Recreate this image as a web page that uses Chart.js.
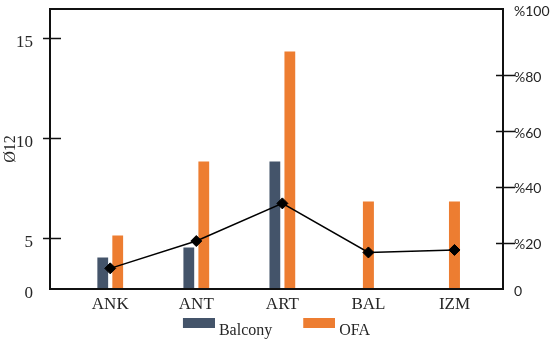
<!DOCTYPE html>
<html><head><meta charset="utf-8">
<script src="https://cdn.jsdelivr.net/npm/chart.js@4/dist/chart.umd.min.js"></script>
<style>html,body{margin:0;padding:0;background:#fff}#wrap{width:550px;height:341px}</style>
</head><body><div id="wrap"><canvas id="c" width="550" height="341"></canvas></div>
<script>
// ---- data ----
const categories = ['ANK', 'ANT', 'ART', 'BAL', 'IZM'];
const balcony = [4.0, 4.5, 8.8, null, null];
const ofa = [5.1, 8.8, 14.3, 6.8, 6.8];
const share = [10.8, 20.6, 34.1, 16.5, 17.4];   // right axis (%)
const leftTicks = [5, 10, 15];
const rightTicks = [20, 40, 60, 80];
const leftBottomLabel = '0';
const rightBottomLabel = '0';
const rightTopLabel = '%100';
const seriesNames = ['Balcony', 'OFA'];
const yTitle = 'Ø12';

// ---- layout / range settings ----
const leftMin = 2.425, leftMax = 16.425;
const rightMin = 3.4, rightMax = 103.8;
const xMin = -0.70, xMax = 4.564;
const SERIF = "'Liberation Serif', 'DejaVu Serif', serif";
const SANS = "Lato, 'Open Sans', sans-serif";
const TXT = '#262626';
const COL_B = '#44546A', COL_O = '#ED7D31';
const LEG_BW = 51;

const toXY = arr => arr.map((v, i) => ({x: i, y: v}));

function swatch(color) {
  const c = document.createElement('canvas');
  c.width = LEG_BW + 8; c.height = 26;
  const g = c.getContext('2d');
  g.fillStyle = color;
  g.fillRect(c.width - 32, 0, 32, 10);
  return c;
}
const swatches = [swatch(COL_B), swatch(COL_O)];

const noPad = s => { s.paddingTop = 0; s.paddingBottom = 0; s.paddingLeft = 0; s.paddingRight = 0; };

const framePlugin = {
  id: 'frame',
  afterDatasetsDraw(chart) {
    const {ctx, chartArea: a, scales} = chart;
    ctx.save();
    ctx.strokeStyle = '#111';
    ctx.lineWidth = 2;
    ctx.strokeRect(a.left, a.top, a.right - a.left, a.bottom - a.top);
    ctx.lineWidth = 1.5;
    ctx.beginPath();
    leftTicks.forEach(v => {
      const y = Math.round(scales.y.getPixelForValue(v)) + 0.5;
      ctx.moveTo(a.left - 7, y); ctx.lineTo(a.left + 11, y);
    });
    rightTicks.forEach(v => {
      const y = Math.round(scales.y1.getPixelForValue(v)) + 0.5;
      ctx.moveTo(a.right - 7, y); ctx.lineTo(a.right + 12, y);
    });
    ctx.stroke();
    ctx.restore();
  }
};

new Chart(document.getElementById('c'), {
  type: 'bar',
  data: {
    datasets: [
      {type: 'line', label: 'share', data: toXY(share), yAxisID: 'y1', order: 0,
       borderColor: '#000', borderWidth: 1.5, pointStyle: 'rectRot', pointRadius: 5.5,
       pointBackgroundColor: '#000', pointBorderColor: '#000', pointBorderWidth: 1, tension: 0},
      {type: 'bar', label: seriesNames[0], data: toXY(balcony), yAxisID: 'y', order: 1,
       backgroundColor: COL_B, skipNull: true, clip: 0,
       categoryPercentage: 0.348, barPercentage: 0.72, maxBarThickness: 11},
      {type: 'bar', label: seriesNames[1], data: toXY(ofa), yAxisID: 'y', order: 1,
       backgroundColor: COL_O, skipNull: true, clip: 0,
       categoryPercentage: 0.348, barPercentage: 0.72, maxBarThickness: 11}
    ]
  },
  options: {
    responsive: false,
    devicePixelRatio: 1,
    animation: false,
    layout: {padding: {top: 9, bottom: -8, left: -20, right: 0}},
    plugins: {
      tooltip: {enabled: false},
      legend: {
        position: 'bottom',
        labels: {
          usePointStyle: true, pointStyleWidth: LEG_BW, padding: 8,
          font: {family: SERIF, size: 16}, color: TXT,
          generateLabels: (chart) => {
            const items = Chart.defaults.plugins.legend.labels.generateLabels(chart);
            return items.filter(it => chart.data.datasets[it.datasetIndex].type === 'bar')
              .map(it => Object.assign(it, {pointStyle: swatches[it.datasetIndex - 1]}));
          }
        }
      }
    },
    scales: {
      x: {
        type: 'linear', min: xMin, max: xMax, offset: false,
        grid: {display: false, drawTicks: false}, border: {display: false},
        afterBuildTicks: s => { s.ticks = categories.map((c, i) => ({value: i})); },
        afterFit: s => { s.height = 26; noPad(s); },
        ticks: {callback: v => categories[Math.round(v)] ?? '', autoSkip: false, maxRotation: 0,
                padding: 5, font: {family: SERIF, size: 17}, color: TXT}
      },
      y: {
        type: 'linear', position: 'left', min: leftMin, max: leftMax,
        grid: {display: false, drawTicks: false}, border: {display: false},
        afterBuildTicks: s => { s.ticks = [leftMin, ...leftTicks, leftMax].map(v => ({value: v})); },
        afterFit: s => { s.width = 70; noPad(s); },
        ticks: {callback: v => v === leftMin ? leftBottomLabel : (v === leftMax ? '' : String(v)),
                padding: 17, labelOffset: 5, font: {family: SERIF, size: 17}, color: TXT},
        title: {display: true, text: yTitle, font: {family: SERIF, size: 16}, color: TXT,
                padding: {top: 21, bottom: 0}}
      },
      y1: {
        type: 'linear', position: 'right', min: rightMin, max: rightMax,
        grid: {display: false, drawTicks: false}, border: {display: false},
        afterBuildTicks: s => { s.ticks = [rightMin, ...rightTicks, rightMax].map(v => ({value: v})); },
        afterFit: s => { s.width = 47; noPad(s); },
        ticks: {callback: v => v === rightMin ? rightBottomLabel : (v === rightMax ? rightTopLabel : '%' + v),
                padding: 11, labelOffset: 2, font: {family: SANS, size: 14}, color: TXT}
      }
    }
  },
  plugins: [framePlugin]
});
</script></body></html>
